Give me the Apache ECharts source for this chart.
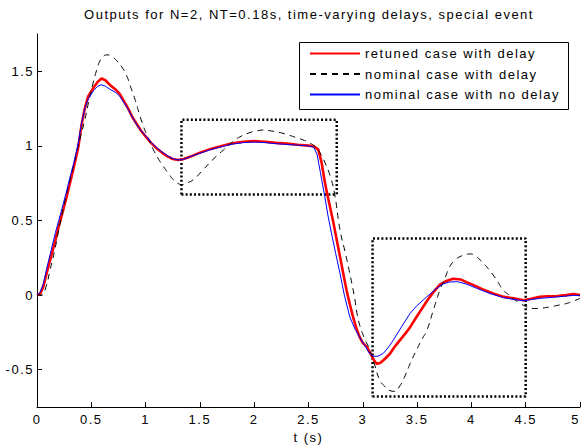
<!DOCTYPE html>
<html>
<head>
<meta charset="utf-8">
<title>Outputs for N=2</title>
<script src="https://cdn.jsdelivr.net/npm/echarts@6/dist/echarts.min.js"></script>
<style>
  html, body { margin: 0; padding: 0; background: #fff; }
  #chart { width: 581px; height: 446px; }
  /* MATLAB-style loosely spaced lettering */
  #chart text { letter-spacing: 1.5px; }
</style>
</head>
<body>
<div id="chart"></div>
<script>
// Series names
const seriesNames = ['retuned case with delay', 'nominal case with delay', 'nominal case with no delay'];

// Axis ticks
const xTicks = [0, 0.5, 1, 1.5, 2, 2.5, 3, 3.5, 4, 4.5, 5];
const yTicks = [-0.5, 0, 0.5, 1, 1.5];

// Output samples [t (s), y]
const retunedDelay = [
  [0,0],[0.03,0.01],[0.06,0.06],[0.09,0.15],[0.13,0.26],[0.17,0.37],[0.2,0.46],[0.23,0.54],
  [0.27,0.65],[0.3,0.74],[0.34,0.86],[0.38,0.99],[0.41,1.14],[0.44,1.25],[0.47,1.33],[0.52,1.39],
  [0.56,1.43],[0.595,1.452],[0.63,1.44],[0.67,1.41],[0.72,1.38],[0.76,1.35],[0.8,1.30],[0.84,1.25],
  [0.88,1.19],[0.92,1.145],[0.96,1.10],[1.01,1.055],[1.05,1.02],[1.1,0.985],[1.15,0.955],[1.2,0.93],
  [1.25,0.912],[1.3,0.905],[1.35,0.912],[1.42,0.93],[1.5,0.955],[1.6,0.98],[1.7,1.0],[1.8,1.018],
  [1.9,1.028],[2.0,1.032],[2.1,1.028],[2.2,1.02],[2.3,1.015],[2.4,1.008],[2.5,1.002],[2.55,0.998],
  [2.59,0.975],[2.62,0.89],[2.65,0.76],[2.67,0.685],[2.7,0.585],[2.73,0.483],[2.76,0.37],[2.79,0.258],
  [2.82,0.145],[2.85,0.034],[2.88,-0.06],[2.91,-0.146],[2.94,-0.22],[2.97,-0.28],[3.0,-0.32],[3.04,-0.35],
  [3.08,-0.404],[3.11,-0.445],[3.13,-0.46],[3.16,-0.455],[3.2,-0.43],[3.25,-0.393],[3.3,-0.34],[3.35,-0.295],
  [3.4,-0.25],[3.44,-0.21],[3.5,-0.14],[3.55,-0.085],[3.59,-0.04],[3.65,0.02],[3.71,0.07],[3.77,0.095],
  [3.83,0.11],[3.9,0.105],[3.96,0.085],[4.02,0.067],[4.1,0.04],[4.2,0.011],[4.3,-0.012],[4.39,-0.022],
  [4.48,-0.034],[4.55,-0.025],[4.63,-0.011],[4.7,-0.008],[4.79,-0.006],[4.87,0.0],[4.94,0.007],[5.0,0.0]
];

const nominalDelay = [
  [0,0],[0.04,0.0],[0.08,0.05],[0.12,0.168],[0.16,0.29],[0.196,0.42],[0.23,0.54],[0.27,0.67],
  [0.32,0.82],[0.365,0.956],[0.4,1.06],[0.442,1.18],[0.48,1.31],[0.518,1.425],[0.55,1.51],[0.58,1.571],
  [0.61,1.6],[0.642,1.61],[0.69,1.6],[0.734,1.571],[0.78,1.53],[0.826,1.47],[0.86,1.4],[0.902,1.313],
  [0.94,1.22],[0.979,1.133],[1.02,1.06],[1.071,0.976],[1.12,0.91],[1.163,0.864],[1.21,0.815],[1.255,0.774],
  [1.3,0.748],[1.33,0.741],[1.38,0.752],[1.44,0.774],[1.53,0.84],[1.62,0.909],[1.72,0.975],[1.81,1.032],
  [1.88,1.065],[1.96,1.089],[2.02,1.10],[2.08,1.106],[2.16,1.1],[2.24,1.089],[2.32,1.072],[2.39,1.055],
  [2.45,1.04],[2.51,1.02],[2.56,0.995],[2.606,0.954],[2.65,0.89],[2.7,0.797],[2.74,0.68],[2.79,0.438],
  [2.84,0.28],[2.88,0.146],[2.92,0.0],[2.96,-0.168],[3.01,-0.28],[3.066,-0.37],[3.11,-0.47],[3.158,-0.572],
  [3.2,-0.61],[3.25,-0.64],[3.29,-0.645],[3.34,-0.61],[3.39,-0.54],[3.435,-0.46],[3.5,-0.36],[3.55,-0.29],
  [3.59,-0.236],[3.65,-0.1],[3.71,0.034],[3.76,0.12],[3.8,0.19],[3.85,0.235],[3.895,0.258],[3.95,0.272],
  [3.99,0.276],[4.04,0.26],[4.08,0.236],[4.14,0.19],[4.2,0.135],[4.25,0.08],[4.29,0.034],[4.33,0.01],
  [4.386,-0.025],[4.45,-0.055],[4.51,-0.079],[4.57,-0.09],[4.64,-0.088],[4.72,-0.079],[4.8,-0.068],
  [4.877,-0.056],[4.94,-0.04],[5.0,-0.022]
];

const nominalNoDelay = [
  [0,0],[0.03,0.02],[0.06,0.08],[0.09,0.18],[0.13,0.30],[0.17,0.42],[0.2,0.50],[0.23,0.58],
  [0.27,0.69],[0.3,0.78],[0.34,0.89],[0.38,1.02],[0.41,1.15],[0.44,1.25],[0.47,1.31],[0.52,1.37],
  [0.56,1.40],[0.59,1.41],[0.63,1.40],[0.67,1.38],[0.72,1.36],[0.76,1.335],[0.8,1.29],[0.84,1.245],
  [0.88,1.19],[0.92,1.14],[0.96,1.10],[1.01,1.06],[1.05,1.025],[1.1,0.99],[1.15,0.96],[1.2,0.935],
  [1.25,0.915],[1.3,0.905],[1.35,0.91],[1.42,0.93],[1.5,0.95],[1.6,0.975],[1.7,0.995],[1.8,1.012],
  [1.9,1.022],[2.0,1.026],[2.1,1.022],[2.2,1.015],[2.3,1.01],[2.4,1.005],[2.5,1.0],[2.55,0.99],
  [2.58,0.94],[2.61,0.82],[2.65,0.66],[2.68,0.53],[2.71,0.42],[2.75,0.28],[2.79,0.146],[2.83,0.0],
  [2.88,-0.146],[2.93,-0.23],[2.97,-0.28],[3.02,-0.34],[3.06,-0.39],[3.1,-0.41],[3.14,-0.41],[3.19,-0.39],
  [3.24,-0.345],[3.28,-0.303],[3.35,-0.22],[3.435,-0.123],[3.5,-0.07],[3.59,-0.011],[3.67,0.04],[3.74,0.075],
  [3.8,0.088],[3.87,0.09],[3.95,0.075],[4.05,0.045],[4.17,0.011],[4.3,-0.018],[4.4,-0.03],[4.48,-0.038],
  [4.55,-0.03],[4.63,-0.022],[4.75,-0.015],[4.85,-0.008],[4.94,-0.002],[5.0,-0.002]
];

// Highlighted windows: [tStart, tEnd, yLow, yHigh]
const zoomWindowA = [1.33, 2.76, 0.675, 1.175];
const zoomWindowB = [3.09, 4.5, -0.68, 0.38];

function outline(w) {
  return [[w[0], w[2]], [w[1], w[2]], [w[1], w[3]], [w[0], w[3]], [w[0], w[2]]];
}

const FONT = '"Liberation Sans", Arial, Helvetica, sans-serif';

const chart = echarts.init(document.getElementById('chart'), null, { renderer: 'svg' });

const windowStyle = { color: '#000', width: 2.5, type: [2, 2.2], cap: 'butt' };

chart.setOption({
  animation: false,
  backgroundColor: '#fff',
  textStyle: { fontFamily: FONT },
  grid: { left: 37, right: 1, top: 34, bottom: 39, containLabel: false, outerBoundsMode: 'none' },
  graphic: [
    {
      type: 'text', x: 309, y: 14,
      style: {
        text: 'Outputs for N=2, NT=0.18s, time-varying delays, special event',
        font: '13px ' + FONT, fill: '#000', align: 'center', verticalAlign: 'middle'
      }
    },
    {
      type: 'rect', x: 299.5, y: 42.5, z: 5,
      shape: { width: 269, height: 67 },
      style: { fill: '#fff', stroke: '#000', lineWidth: 1 }
    }
  ],
  legend: {
    data: seriesNames,
    orient: 'vertical',
    left: 309, top: 47,
    padding: 0,
    itemWidth: 50, itemHeight: 14, itemGap: 7.5,
    z: 10,
    itemStyle: { opacity: 0 },
    textStyle: { fontFamily: FONT, fontSize: 13, color: '#000' },
    selectedMode: false
  },
  xAxis: {
    type: 'value', min: 0, max: 5, interval: 0.5,
    name: 't (s)', nameLocation: 'middle', nameGap: 22,
    nameTextStyle: { fontSize: 13, color: '#000', fontFamily: FONT },
    axisLine: { show: true, onZero: false, lineStyle: { color: '#000', width: 1 } },
    axisTick: { show: true, inside: true, length: 5, lineStyle: { color: '#000' }, customValues: xTicks },
    axisLabel: { fontSize: 13, color: '#000', margin: 6, customValues: xTicks, hideOverlap: false,
      showMinLabel: true, showMaxLabel: true, alignMaxLabel: 'right' },
    splitLine: { show: false }
  },
  yAxis: {
    type: 'value', min: -0.75, max: 1.75,
    axisLine: { show: true, onZero: false, lineStyle: { color: '#000', width: 1 } },
    axisTick: { show: true, inside: true, length: 5, lineStyle: { color: '#000' }, customValues: yTicks },
    axisLabel: { fontSize: 13, color: '#000', margin: 3, customValues: yTicks },
    splitLine: { show: false }
  },
  series: [
    {
      name: seriesNames[0], type: 'line', data: retunedDelay, symbol: 'none', smooth: false,
      lineStyle: { color: '#ff0000', width: 2.6 }, itemStyle: { color: '#ff0000' }, z: 2
    },
    {
      name: seriesNames[1], type: 'line', data: nominalDelay, symbol: 'none', smooth: true,
      lineStyle: { color: '#000', width: 1, type: [6, 5] }, itemStyle: { color: '#000' }, z: 3
    },
    {
      name: seriesNames[2], type: 'line', data: nominalNoDelay, symbol: 'none', smooth: false,
      lineStyle: { color: '#0000ff', width: 1 }, itemStyle: { color: '#0000ff' }, z: 4
    },
    {
      name: 'windowA', type: 'line', data: outline(zoomWindowA), symbol: 'none', silent: true,
      lineStyle: windowStyle, z: 1
    },
    {
      name: 'windowB', type: 'line', data: outline(zoomWindowB), symbol: 'none', silent: true,
      lineStyle: windowStyle, z: 1
    }
  ]
});
</script>
</body>
</html>
